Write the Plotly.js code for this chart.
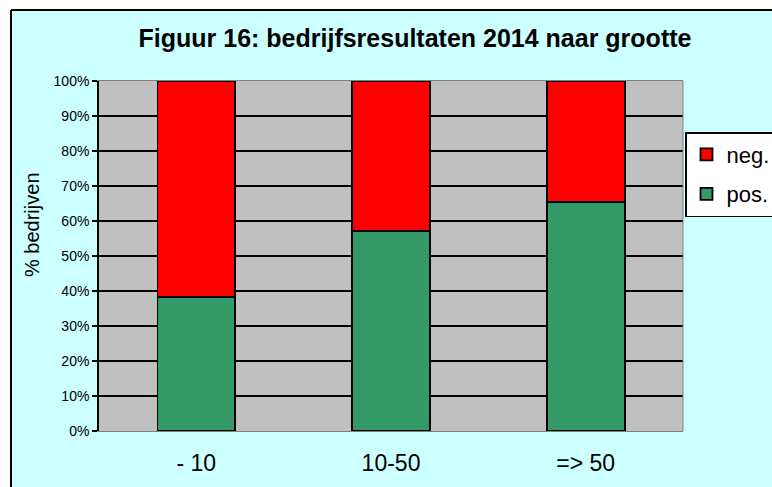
<!DOCTYPE html>
<html>
<head>
<meta charset="utf-8">
<script src="https://cdn.plot.ly/plotly-3.0.1.min.js"></script>
<style>
  html, body { margin: 0; padding: 0; background: #ffffff; }
  #chart { width: 772px; height: 487px; }
</style>
</head>
<body>
<div id="chart"></div>
<script>
// ---- data ----
var categories = ['- 10', '10-50', '=> 50'];
var posValues = [38.2, 57.2, 65.5];
var negValues = [61.8, 42.8, 34.5];
var yTickValues = [0, 10, 20, 30, 40, 50, 60, 70, 80, 90, 100];
var yTickLabels = ['0%', '10%', '20%', '30%', '40%', '50%', '60%', '70%', '80%', '90%', '100%'];
var titleText = 'Figuur 16: bedrijfsresultaten 2014 naar grootte';
var yTitleText = '% bedrijven';

// ---- layout geometry (pixels) ----
var W = 772, H = 487;
var L = 99, R = 683, T = 81, B = 431;
function xp(px) { return (px - L) / (R - L); }
function yp(py) { return (B - py) / (B - T); }

var font = 'Arial, "Liberation Sans", sans-serif';

var traces = [
  {
    type: 'bar', name: 'pos.', x: categories, y: posValues,
    marker: { color: '#339966', line: { color: '#000000', width: 1.8 } },
    legendgroup: 'g1', legendrank: 2
  },
  {
    type: 'bar', name: 'neg.', x: categories, y: negValues,
    marker: { color: '#FF0000', line: { color: '#000000', width: 1.8 } },
    legendgroup: 'g2', legendrank: 1
  }
];

var layout = {
  width: W, height: H,
  paper_bgcolor: '#CCFFFF',
  plot_bgcolor: '#C0C0C0',
  margin: { l: L, r: W - R, t: T, b: H - B, pad: 0, autoexpand: false },
  barmode: 'stack',
  bargap: 0.6,
  font: { family: font, color: '#000000' },
  title: {
    text: '<b>' + titleText + '</b>',
    font: { family: font, size: 25, color: '#000000' },
    xref: 'container', x: 415 / W, xanchor: 'center',
    yref: 'container', y: 1 - 38 / H, yanchor: 'middle'
  },
  xaxis: {
    type: 'category',
    showline: true, linecolor: '#808080', linewidth: 1, mirror: true,
    ticks: '', showgrid: false, zeroline: false,
    tickfont: { family: font, size: 23, color: '#000000' },
    ticklabelstandoff: 11
  },
  yaxis: {
    range: [0, 100], tickmode: 'array', tickvals: yTickValues, ticktext: yTickLabels,
    showline: true, linecolor: '#000000', linewidth: 1.8,
    ticks: 'outside', ticklen: 5, tickwidth: 1.5, tickcolor: '#000000',
    showgrid: true, gridcolor: '#000000', gridwidth: 1.5,
    zeroline: false,
    tickfont: { family: font, size: 14, color: '#000000' }
  },
  legend: {
    x: xp(685), y: yp(132), xanchor: 'left', yanchor: 'top',
    bgcolor: '#FFFFFF', bordercolor: '#000000', borderwidth: 1.5,
    font: { family: font, size: 22, color: '#000000' },
    traceorder: 'grouped', tracegroupgap: 8
  },
  annotations: [
    // y-axis title (Excel centres it on the chart area, not the plot area)
    { text: yTitleText, textangle: -90, showarrow: false,
      xref: 'paper', yref: 'paper', x: xp(32), y: yp(225),
      xanchor: 'center', yanchor: 'middle',
      font: { family: font, size: 20, color: '#000000' } }
  ],
  shapes: [
    // white area outside the chart border
    { type: 'rect', xref: 'paper', yref: 'paper', x0: xp(-5), x1: xp(790), y0: yp(10), y1: yp(-10),
      fillcolor: '#FFFFFF', line: { width: 0 }, layer: 'below' },
    { type: 'rect', xref: 'paper', yref: 'paper', x0: xp(-5), x1: xp(11), y0: yp(500), y1: yp(-10),
      fillcolor: '#FFFFFF', line: { width: 0 }, layer: 'below' },
    // chart border
    { type: 'line', xref: 'paper', yref: 'paper', x0: xp(11), x1: xp(790), y0: yp(10), y1: yp(10),
      line: { color: '#000000', width: 2 } },
    { type: 'line', xref: 'paper', yref: 'paper', x0: xp(11), x1: xp(11), y0: yp(10), y1: yp(500),
      line: { color: '#000000', width: 2 } },
    // right edge of plot area
    { type: 'line', xref: 'paper', yref: 'paper', x0: 1, x1: 1, y0: 0, y1: 1,
      line: { color: '#808080', width: 1 } }
  ]
};

Plotly.newPlot('chart', traces, layout, { staticPlot: true, displayModeBar: false });
</script>
</body>
</html>
